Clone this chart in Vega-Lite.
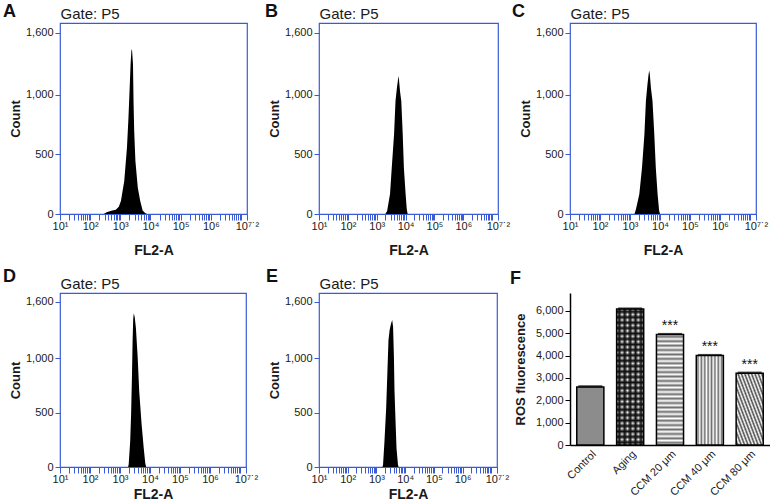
{
"$schema": "https://vega.github.io/schema/vega-lite/v6.json",
"padding": {"left": 2, "top": 2, "right": 0, "bottom": 0},
"config": {
  "font": "Liberation Sans",
  "view": {"stroke": "#3b5bd6", "strokeWidth": 1.2},
  "axis": {"grid": false, "labelFont": "Liberation Sans", "titleFont": "Liberation Sans", "labelColor": "#1a1a1a", "titleColor": "#1a1a1a", "labelFontSize": 11, "titleFontSize": 13, "titleFontWeight": "bold"},
  "axisTop": {"labels": false, "ticks": false, "domain": false, "titleAnchor": "start", "titleAlign": "left", "titleFontWeight": "normal", "titleFontSize": 15, "titlePadding": 2},
  "title": {"fontSize": 18, "fontWeight": "bold", "anchor": "start", "frame": "group", "offset": 0, "baseline": "alphabetic", "color": "#111", "font": "Liberation Sans"}
},
"datasets": {
  "hist": [
    {"panel":"A","logFL2A":2.45,"count":0},{"panel":"A","logFL2A":2.55,"count":15},{"panel":"A","logFL2A":2.7,"count":28},{"panel":"A","logFL2A":2.85,"count":35},{"panel":"A","logFL2A":2.95,"count":60},{"panel":"A","logFL2A":3.02,"count":109},{"panel":"A","logFL2A":3.13,"count":276},{"panel":"A","logFL2A":3.22,"count":555},{"panel":"A","logFL2A":3.27,"count":807},{"panel":"A","logFL2A":3.31,"count":1058},{"panel":"A","logFL2A":3.34,"count":1254},{"panel":"A","logFL2A":3.37,"count":1380},{"panel":"A","logFL2A":3.39,"count":1370},{"panel":"A","logFL2A":3.42,"count":1254},{"panel":"A","logFL2A":3.44,"count":919},{"panel":"A","logFL2A":3.46,"count":695},{"panel":"A","logFL2A":3.5,"count":444},{"panel":"A","logFL2A":3.58,"count":220},{"panel":"A","logFL2A":3.66,"count":109},{"panel":"A","logFL2A":3.74,"count":30},{"panel":"A","logFL2A":3.82,"count":8},{"panel":"A","logFL2A":3.88,"count":0},
    {"panel":"B","logFL2A":3.3,"count":0},{"panel":"B","logFL2A":3.36,"count":25},{"panel":"B","logFL2A":3.46,"count":167},{"panel":"B","logFL2A":3.52,"count":388},{"panel":"B","logFL2A":3.6,"count":669},{"panel":"B","logFL2A":3.65,"count":946},{"panel":"B","logFL2A":3.7,"count":1060},{"panel":"B","logFL2A":3.74,"count":1130},{"panel":"B","logFL2A":3.76,"count":1156},{"panel":"B","logFL2A":3.78,"count":1100},{"panel":"B","logFL2A":3.81,"count":1020},{"panel":"B","logFL2A":3.85,"count":946},{"panel":"B","logFL2A":3.9,"count":669},{"panel":"B","logFL2A":3.94,"count":388},{"panel":"B","logFL2A":4.0,"count":167},{"panel":"B","logFL2A":4.04,"count":40},{"panel":"B","logFL2A":4.07,"count":0},
    {"panel":"C","logFL2A":3.15,"count":0},{"panel":"C","logFL2A":3.2,"count":42},{"panel":"C","logFL2A":3.31,"count":165},{"panel":"C","logFL2A":3.4,"count":388},{"panel":"C","logFL2A":3.48,"count":667},{"panel":"C","logFL2A":3.53,"count":946},{"panel":"C","logFL2A":3.58,"count":1080},{"panel":"C","logFL2A":3.62,"count":1170},{"panel":"C","logFL2A":3.64,"count":1203},{"panel":"C","logFL2A":3.66,"count":1170},{"panel":"C","logFL2A":3.7,"count":1050},{"panel":"C","logFL2A":3.75,"count":946},{"panel":"C","logFL2A":3.81,"count":667},{"panel":"C","logFL2A":3.86,"count":388},{"panel":"C","logFL2A":3.92,"count":165},{"panel":"C","logFL2A":3.97,"count":30},{"panel":"C","logFL2A":4.0,"count":0},
    {"panel":"D","logFL2A":3.27,"count":0},{"panel":"D","logFL2A":3.29,"count":25},{"panel":"D","logFL2A":3.34,"count":239},{"panel":"D","logFL2A":3.37,"count":485},{"panel":"D","logFL2A":3.4,"count":852},{"panel":"D","logFL2A":3.42,"count":1159},{"panel":"D","logFL2A":3.44,"count":1360},{"panel":"D","logFL2A":3.46,"count":1413},{"panel":"D","logFL2A":3.49,"count":1380},{"panel":"D","logFL2A":3.53,"count":1281},{"panel":"D","logFL2A":3.59,"count":1005},{"panel":"D","logFL2A":3.64,"count":699},{"panel":"D","logFL2A":3.72,"count":393},{"panel":"D","logFL2A":3.79,"count":178},{"panel":"D","logFL2A":3.84,"count":40},{"panel":"D","logFL2A":3.87,"count":0},
    {"panel":"E","logFL2A":3.21,"count":0},{"panel":"E","logFL2A":3.23,"count":19},{"panel":"E","logFL2A":3.28,"count":235},{"panel":"E","logFL2A":3.34,"count":545},{"panel":"E","logFL2A":3.38,"count":856},{"panel":"E","logFL2A":3.42,"count":1166},{"panel":"E","logFL2A":3.46,"count":1260},{"panel":"E","logFL2A":3.51,"count":1320},{"panel":"E","logFL2A":3.55,"count":1352},{"panel":"E","logFL2A":3.58,"count":1290},{"panel":"E","logFL2A":3.61,"count":1010},{"panel":"E","logFL2A":3.63,"count":700},{"panel":"E","logFL2A":3.67,"count":391},{"panel":"E","logFL2A":3.7,"count":173},{"panel":"E","logFL2A":3.75,"count":24},{"panel":"E","logFL2A":3.77,"count":0}
  ],
  "ros": [
    {"group":"Control","value":2600,"hi":2630,"sig":""},
    {"group":"Aging","value":6080,"hi":6110,"sig":""},
    {"group":"CCM 20 μm","value":4940,"hi":4970,"sig":"***"},
    {"group":"CCM 40 μm","value":4000,"hi":4030,"sig":"***"},
    {"group":"CCM 80 μm","value":3210,"hi":3240,"sig":"***"}
  ]
},
"bounds": "flush",
"align": "each",
"columns": 3,
"spacing": {"row": 79, "column": 72},
"concat": [
   {"width": 187, "height": 191, "title": {"text": "A", "dx": -57, "dy": 19},
    "data": {"name": "hist"}, "transform": [{"filter": "datum.panel == 'A'"}],
    "layer": [
     {"mark": {"type": "area", "color": "#000", "interpolate": "linear"},
      "encoding": {
       "x": {"field": "logFL2A", "type": "quantitative", "scale": {"domain": [1, 7.2], "nice": false, "zero": false},
             "axis": {"title": "FL2-A", "titleFontSize": 14, "titlePadding": 12, "values": [1,1.301,1.477,1.602,1.699,1.778,1.845,1.903,1.954,2,2.301,2.477,2.602,2.699,2.778,2.845,2.903,2.954,3,3.301,3.477,3.602,3.699,3.778,3.845,3.903,3.954,4,4.301,4.477,4.602,4.699,4.778,4.845,4.903,4.954,5,5.301,5.477,5.602,5.699,5.778,5.845,5.903,5.954,6,6.301,6.477,6.602,6.699,6.778,6.845,6.903,6.954,7,7.2], "labelExpr": "datum.value == 1 ? '10¹' : datum.value == 2 ? '10²' : datum.value == 3 ? '10³' : datum.value == 4 ? '10⁴' : datum.value == 5 ? '10⁵' : datum.value == 6 ? '10⁶' : datum.value == 7.2 ? '10⁷˙²' : ''", "labelOverlap": false, "labelFlush": false, "tickColor": "#3b5bd6", "tickSize": 6, "domain": false, "labelPadding": 0}},
       "y": {"field": "count", "type": "quantitative", "scale": {"domain": [0, 1600], "nice": false},
             "axis": {"title": "Count", "values": [0, 500, 1000, 1520], "labelExpr": "datum.value == 1520 ? '1,600' : format(datum.value, ',')", "tickColor": "#3b5bd6", "tickSize": 5, "domain": false, "labelPadding": 2, "titlePadding": 3}}
      }},
     {"mark": {"type": "point", "opacity": 0},
      "encoding": {"x": {"field": "logFL2A", "type": "quantitative", "axis": {"orient": "top", "title": "Gate: P5"}}}}
    ],
    "resolve": {"axis": {"x": "independent"}}},
   {"width": 179, "height": 191, "title": {"text": "B", "dx": -54, "dy": 19},
    "data": {"name": "hist"}, "transform": [{"filter": "datum.panel == 'B'"}],
    "layer": [
     {"mark": {"type": "area", "color": "#000", "interpolate": "linear"},
      "encoding": {
       "x": {"field": "logFL2A", "type": "quantitative", "scale": {"domain": [1, 7.2], "nice": false, "zero": false},
             "axis": {"title": "FL2-A", "titleFontSize": 14, "titlePadding": 12, "values": [1,1.301,1.477,1.602,1.699,1.778,1.845,1.903,1.954,2,2.301,2.477,2.602,2.699,2.778,2.845,2.903,2.954,3,3.301,3.477,3.602,3.699,3.778,3.845,3.903,3.954,4,4.301,4.477,4.602,4.699,4.778,4.845,4.903,4.954,5,5.301,5.477,5.602,5.699,5.778,5.845,5.903,5.954,6,6.301,6.477,6.602,6.699,6.778,6.845,6.903,6.954,7,7.2], "labelExpr": "datum.value == 1 ? '10¹' : datum.value == 2 ? '10²' : datum.value == 3 ? '10³' : datum.value == 4 ? '10⁴' : datum.value == 5 ? '10⁵' : datum.value == 6 ? '10⁶' : datum.value == 7.2 ? '10⁷˙²' : ''", "labelOverlap": false, "labelFlush": false, "tickColor": "#3b5bd6", "tickSize": 6, "domain": false, "labelPadding": 0}},
       "y": {"field": "count", "type": "quantitative", "scale": {"domain": [0, 1600], "nice": false},
             "axis": {"title": "Count", "values": [0, 500, 1000, 1520], "labelExpr": "datum.value == 1520 ? '1,600' : format(datum.value, ',')", "tickColor": "#3b5bd6", "tickSize": 5, "domain": false, "labelPadding": 2, "titlePadding": 3}}
      }},
     {"mark": {"type": "point", "opacity": 0},
      "encoding": {"x": {"field": "logFL2A", "type": "quantitative", "axis": {"orient": "top", "title": "Gate: P5"}}}}
    ],
    "resolve": {"axis": {"x": "independent"}}},
  {"width": 186, "height": 191, "title": {"text": "C", "dx": -58, "dy": 19},
   "data": {"name": "hist"}, "transform": [{"filter": "datum.panel == 'C'"}],
   "layer": [
    {"mark": {"type": "area", "color": "#000", "interpolate": "linear"},
     "encoding": {
      "x": {"field": "logFL2A", "type": "quantitative", "scale": {"domain": [1, 7.2], "nice": false, "zero": false},
            "axis": {"title": "FL2-A", "titleFontSize": 14, "titlePadding": 12, "values": [1,1.301,1.477,1.602,1.699,1.778,1.845,1.903,1.954,2,2.301,2.477,2.602,2.699,2.778,2.845,2.903,2.954,3,3.301,3.477,3.602,3.699,3.778,3.845,3.903,3.954,4,4.301,4.477,4.602,4.699,4.778,4.845,4.903,4.954,5,5.301,5.477,5.602,5.699,5.778,5.845,5.903,5.954,6,6.301,6.477,6.602,6.699,6.778,6.845,6.903,6.954,7,7.2], "labelExpr": "datum.value == 1 ? '10¹' : datum.value == 2 ? '10²' : datum.value == 3 ? '10³' : datum.value == 4 ? '10⁴' : datum.value == 5 ? '10⁵' : datum.value == 6 ? '10⁶' : datum.value == 7.2 ? '10⁷˙²' : ''", "labelOverlap": false, "labelFlush": false, "tickColor": "#3b5bd6", "tickSize": 6, "domain": false, "labelPadding": 0}},
      "y": {"field": "count", "type": "quantitative", "scale": {"domain": [0, 1600], "nice": false},
            "axis": {"title": "Count", "values": [0, 500, 1000, 1520], "labelExpr": "datum.value == 1520 ? '1,600' : format(datum.value, ',')", "tickColor": "#3b5bd6", "tickSize": 5, "domain": false, "labelPadding": 2, "titlePadding": 3}}
     }},
    {"mark": {"type": "point", "opacity": 0},
     "encoding": {"x": {"field": "logFL2A", "type": "quantitative", "axis": {"orient": "top", "title": "Gate: P5"}}}}
   ],
   "resolve": {"axis": {"x": "independent"}}},
   {"width": 186, "height": 174, "title": {"text": "D", "dx": -57, "dy": 14},
    "data": {"name": "hist"}, "transform": [{"filter": "datum.panel == 'D'"}],
    "layer": [
     {"mark": {"type": "area", "color": "#000", "interpolate": "linear"},
      "encoding": {
       "x": {"field": "logFL2A", "type": "quantitative", "scale": {"domain": [1, 7.2], "nice": false, "zero": false},
             "axis": {"title": "FL2-A", "titleFontSize": 14, "titlePadding": 3, "values": [1,1.301,1.477,1.602,1.699,1.778,1.845,1.903,1.954,2,2.301,2.477,2.602,2.699,2.778,2.845,2.903,2.954,3,3.301,3.477,3.602,3.699,3.778,3.845,3.903,3.954,4,4.301,4.477,4.602,4.699,4.778,4.845,4.903,4.954,5,5.301,5.477,5.602,5.699,5.778,5.845,5.903,5.954,6,6.301,6.477,6.602,6.699,6.778,6.845,6.903,6.954,7,7.2], "labelExpr": "datum.value == 1 ? '10¹' : datum.value == 2 ? '10²' : datum.value == 3 ? '10³' : datum.value == 4 ? '10⁴' : datum.value == 5 ? '10⁵' : datum.value == 6 ? '10⁶' : datum.value == 7.2 ? '10⁷˙²' : ''", "labelOverlap": false, "labelFlush": false, "tickColor": "#3b5bd6", "tickSize": 6, "domain": false, "labelPadding": 0}},
       "y": {"field": "count", "type": "quantitative", "scale": {"domain": [0, 1600], "nice": false},
             "axis": {"title": "Count", "values": [0, 500, 1000, 1520], "labelExpr": "datum.value == 1520 ? '1,600' : format(datum.value, ',')", "tickColor": "#3b5bd6", "tickSize": 5, "domain": false, "labelPadding": 2, "titlePadding": 3}}
      }},
     {"mark": {"type": "point", "opacity": 0},
      "encoding": {"x": {"field": "logFL2A", "type": "quantitative", "axis": {"orient": "top", "title": "Gate: P5"}}}}
    ],
    "resolve": {"axis": {"x": "independent"}}},
   {"width": 178, "height": 174, "title": {"text": "E", "dx": -53, "dy": 14},
    "data": {"name": "hist"}, "transform": [{"filter": "datum.panel == 'E'"}],
    "layer": [
     {"mark": {"type": "area", "color": "#000", "interpolate": "linear"},
      "encoding": {
       "x": {"field": "logFL2A", "type": "quantitative", "scale": {"domain": [1, 7.2], "nice": false, "zero": false},
             "axis": {"title": "FL2-A", "titleFontSize": 14, "titlePadding": 3, "values": [1,1.301,1.477,1.602,1.699,1.778,1.845,1.903,1.954,2,2.301,2.477,2.602,2.699,2.778,2.845,2.903,2.954,3,3.301,3.477,3.602,3.699,3.778,3.845,3.903,3.954,4,4.301,4.477,4.602,4.699,4.778,4.845,4.903,4.954,5,5.301,5.477,5.602,5.699,5.778,5.845,5.903,5.954,6,6.301,6.477,6.602,6.699,6.778,6.845,6.903,6.954,7,7.2], "labelExpr": "datum.value == 1 ? '10¹' : datum.value == 2 ? '10²' : datum.value == 3 ? '10³' : datum.value == 4 ? '10⁴' : datum.value == 5 ? '10⁵' : datum.value == 6 ? '10⁶' : datum.value == 7.2 ? '10⁷˙²' : ''", "labelOverlap": false, "labelFlush": false, "tickColor": "#3b5bd6", "tickSize": 6, "domain": false, "labelPadding": 0}},
       "y": {"field": "count", "type": "quantitative", "scale": {"domain": [0, 1600], "nice": false},
             "axis": {"title": "Count", "values": [0, 500, 1000, 1520], "labelExpr": "datum.value == 1520 ? '1,600' : format(datum.value, ',')", "tickColor": "#3b5bd6", "tickSize": 5, "domain": false, "labelPadding": 2, "titlePadding": 3}}
      }},
     {"mark": {"type": "point", "opacity": 0},
      "encoding": {"x": {"field": "logFL2A", "type": "quantitative", "axis": {"orient": "top", "title": "Gate: P5"}}}}
    ],
    "resolve": {"axis": {"x": "independent"}}},
  {"width": 200, "height": 152, "view": {"stroke": null},
   "title": {"text": "F", "dx": -60, "dy": -1},
   "data": {"name": "ros"},
   "encoding": {
     "x": {"field": "group", "type": "nominal", "sort": null, "scale": {"paddingInner": 0.32, "paddingOuter": 0.17},
           "axis": {"title": null, "labelAngle": -45, "ticks": false, "domainColor": "#000", "domainWidth": 1.5, "labelFontSize": 11, "labelPadding": 3}},
     "y": {"field": "value", "type": "quantitative", "scale": {"domain": [0, 6800], "nice": false},
           "axis": {"title": "ROS fluorescence", "values": [0,1000,2000,3000,4000,5000,6000], "labelExpr": "format(datum.value, ',')", "tickSize": 5, "tickColor": "#000", "domainColor": "#000", "domainWidth": 1.5, "titlePadding": 8, "labelPadding": 2}}
   },
   "layer": [
     {"transform": [{"filter": "datum.group == 'Control'"}], "mark": {"type": "bar", "fill": "#8c8c8c", "stroke": "#000", "strokeWidth": 1.5}},
     {"transform": [{"filter": "datum.group == 'Aging'"}], "mark": {"type": "bar", "fill": "#fff"}},
     {"transform": [{"filter": "datum.group == 'Aging'"}], "mark": {"type": "bar", "fill": {"gradient": "linear", "x1": 0, "y1": 0, "x2": 0, "y2": 1, "stops": [
       {"offset":0,"color":"rgba(0,0,0,0)"},{"offset":0.02,"color":"#111"},{"offset":0.04,"color":"rgba(0,0,0,0)"},{"offset":0.06,"color":"#111"},{"offset":0.08,"color":"rgba(0,0,0,0)"},{"offset":0.1,"color":"#111"},{"offset":0.12,"color":"rgba(0,0,0,0)"},{"offset":0.14,"color":"#111"},{"offset":0.16,"color":"rgba(0,0,0,0)"},{"offset":0.18,"color":"#111"},{"offset":0.2,"color":"rgba(0,0,0,0)"},{"offset":0.22,"color":"#111"},{"offset":0.24,"color":"rgba(0,0,0,0)"},{"offset":0.26,"color":"#111"},{"offset":0.28,"color":"rgba(0,0,0,0)"},{"offset":0.3,"color":"#111"},{"offset":0.32,"color":"rgba(0,0,0,0)"},{"offset":0.34,"color":"#111"},{"offset":0.36,"color":"rgba(0,0,0,0)"},{"offset":0.38,"color":"#111"},{"offset":0.4,"color":"rgba(0,0,0,0)"},{"offset":0.42,"color":"#111"},{"offset":0.44,"color":"rgba(0,0,0,0)"},{"offset":0.46,"color":"#111"},{"offset":0.48,"color":"rgba(0,0,0,0)"},{"offset":0.5,"color":"#111"},{"offset":0.52,"color":"rgba(0,0,0,0)"},{"offset":0.54,"color":"#111"},{"offset":0.56,"color":"rgba(0,0,0,0)"},{"offset":0.58,"color":"#111"},{"offset":0.6,"color":"rgba(0,0,0,0)"},{"offset":0.62,"color":"#111"},{"offset":0.64,"color":"rgba(0,0,0,0)"},{"offset":0.66,"color":"#111"},{"offset":0.68,"color":"rgba(0,0,0,0)"},{"offset":0.7,"color":"#111"},{"offset":0.72,"color":"rgba(0,0,0,0)"},{"offset":0.74,"color":"#111"},{"offset":0.76,"color":"rgba(0,0,0,0)"},{"offset":0.78,"color":"#111"},{"offset":0.8,"color":"rgba(0,0,0,0)"},{"offset":0.82,"color":"#111"},{"offset":0.84,"color":"rgba(0,0,0,0)"},{"offset":0.86,"color":"#111"},{"offset":0.88,"color":"rgba(0,0,0,0)"},{"offset":0.9,"color":"#111"},{"offset":0.92,"color":"rgba(0,0,0,0)"},{"offset":0.94,"color":"#111"},{"offset":0.96,"color":"rgba(0,0,0,0)"},{"offset":0.98,"color":"#111"},{"offset":1,"color":"rgba(0,0,0,0)"}]}}},
     {"transform": [{"filter": "datum.group == 'Aging'"}], "mark": {"type": "bar", "stroke": "#000", "strokeWidth": 1.5, "fill": {"gradient": "linear", "x1": 0, "y1": 0, "x2": 1, "y2": 0, "stops": [
       {"offset":0,"color":"rgba(0,0,0,0)"},{"offset":0.1,"color":"#111"},{"offset":0.2,"color":"rgba(0,0,0,0)"},{"offset":0.3,"color":"#111"},{"offset":0.4,"color":"rgba(0,0,0,0)"},{"offset":0.5,"color":"#111"},{"offset":0.6,"color":"rgba(0,0,0,0)"},{"offset":0.7,"color":"#111"},{"offset":0.8,"color":"rgba(0,0,0,0)"},{"offset":0.9,"color":"#111"},{"offset":1,"color":"rgba(0,0,0,0)"}]}}},
     {"transform": [{"filter": "datum.group == 'CCM 20 μm'"}], "mark": {"type": "bar", "stroke": "#000", "strokeWidth": 1.5, "fill": {"gradient": "linear", "x1": 0, "y1": 0, "x2": 0, "y2": 1, "stops": [
       {"offset":0,"color":"#fff"},{"offset":0.02,"color":"#6e6e6e"},{"offset":0.04,"color":"#fff"},{"offset":0.06,"color":"#6e6e6e"},{"offset":0.08,"color":"#fff"},{"offset":0.1,"color":"#6e6e6e"},{"offset":0.12,"color":"#fff"},{"offset":0.14,"color":"#6e6e6e"},{"offset":0.16,"color":"#fff"},{"offset":0.18,"color":"#6e6e6e"},{"offset":0.2,"color":"#fff"},{"offset":0.22,"color":"#6e6e6e"},{"offset":0.24,"color":"#fff"},{"offset":0.26,"color":"#6e6e6e"},{"offset":0.28,"color":"#fff"},{"offset":0.3,"color":"#6e6e6e"},{"offset":0.32,"color":"#fff"},{"offset":0.34,"color":"#6e6e6e"},{"offset":0.36,"color":"#fff"},{"offset":0.38,"color":"#6e6e6e"},{"offset":0.4,"color":"#fff"},{"offset":0.42,"color":"#6e6e6e"},{"offset":0.44,"color":"#fff"},{"offset":0.46,"color":"#6e6e6e"},{"offset":0.48,"color":"#fff"},{"offset":0.5,"color":"#6e6e6e"},{"offset":0.52,"color":"#fff"},{"offset":0.54,"color":"#6e6e6e"},{"offset":0.56,"color":"#fff"},{"offset":0.58,"color":"#6e6e6e"},{"offset":0.6,"color":"#fff"},{"offset":0.62,"color":"#6e6e6e"},{"offset":0.64,"color":"#fff"},{"offset":0.66,"color":"#6e6e6e"},{"offset":0.68,"color":"#fff"},{"offset":0.7,"color":"#6e6e6e"},{"offset":0.72,"color":"#fff"},{"offset":0.74,"color":"#6e6e6e"},{"offset":0.76,"color":"#fff"},{"offset":0.78,"color":"#6e6e6e"},{"offset":0.8,"color":"#fff"},{"offset":0.82,"color":"#6e6e6e"},{"offset":0.84,"color":"#fff"},{"offset":0.86,"color":"#6e6e6e"},{"offset":0.88,"color":"#fff"},{"offset":0.9,"color":"#6e6e6e"},{"offset":0.92,"color":"#fff"},{"offset":0.94,"color":"#6e6e6e"},{"offset":0.96,"color":"#fff"},{"offset":0.98,"color":"#6e6e6e"},{"offset":1,"color":"#fff"}]}}},
     {"transform": [{"filter": "datum.group == 'CCM 40 μm'"}], "mark": {"type": "bar", "stroke": "#000", "strokeWidth": 1.5, "fill": {"gradient": "linear", "x1": 0, "y1": 0, "x2": 1, "y2": 0, "stops": [
       {"offset":0,"color":"#fff"},{"offset":0.0625,"color":"#6e6e6e"},{"offset":0.125,"color":"#fff"},{"offset":0.1875,"color":"#6e6e6e"},{"offset":0.25,"color":"#fff"},{"offset":0.3125,"color":"#6e6e6e"},{"offset":0.375,"color":"#fff"},{"offset":0.4375,"color":"#6e6e6e"},{"offset":0.5,"color":"#fff"},{"offset":0.5625,"color":"#6e6e6e"},{"offset":0.625,"color":"#fff"},{"offset":0.6875,"color":"#6e6e6e"},{"offset":0.75,"color":"#fff"},{"offset":0.8125,"color":"#6e6e6e"},{"offset":0.875,"color":"#fff"},{"offset":0.9375,"color":"#6e6e6e"},{"offset":1,"color":"#fff"}]}}},
     {"transform": [{"filter": "datum.group == 'CCM 80 μm'"}], "mark": {"type": "bar", "stroke": "#000", "strokeWidth": 1.5, "fill": {"gradient": "linear", "x1": 1, "y1": 0, "x2": 0, "y2": 1, "stops": [
       {"offset":0,"color":"#fff"},{"offset":0.03125,"color":"#4a4a4a"},{"offset":0.0625,"color":"#fff"},{"offset":0.09375,"color":"#4a4a4a"},{"offset":0.125,"color":"#fff"},{"offset":0.15625,"color":"#4a4a4a"},{"offset":0.1875,"color":"#fff"},{"offset":0.21875,"color":"#4a4a4a"},{"offset":0.25,"color":"#fff"},{"offset":0.28125,"color":"#4a4a4a"},{"offset":0.3125,"color":"#fff"},{"offset":0.34375,"color":"#4a4a4a"},{"offset":0.375,"color":"#fff"},{"offset":0.40625,"color":"#4a4a4a"},{"offset":0.4375,"color":"#fff"},{"offset":0.46875,"color":"#4a4a4a"},{"offset":0.5,"color":"#fff"},{"offset":0.53125,"color":"#4a4a4a"},{"offset":0.5625,"color":"#fff"},{"offset":0.59375,"color":"#4a4a4a"},{"offset":0.625,"color":"#fff"},{"offset":0.65625,"color":"#4a4a4a"},{"offset":0.6875,"color":"#fff"},{"offset":0.71875,"color":"#4a4a4a"},{"offset":0.75,"color":"#fff"},{"offset":0.78125,"color":"#4a4a4a"},{"offset":0.8125,"color":"#fff"},{"offset":0.84375,"color":"#4a4a4a"},{"offset":0.875,"color":"#fff"},{"offset":0.90625,"color":"#4a4a4a"},{"offset":0.9375,"color":"#fff"},{"offset":0.96875,"color":"#4a4a4a"},{"offset":1,"color":"#fff"}]}}},
     {"mark": {"type": "tick", "color": "#000", "thickness": 2, "size": 24},
      "encoding": {"y": {"field": "hi", "type": "quantitative", "axis": {"title": "ROS fluorescence", "values": [0,1000,2000,3000,4000,5000,6000], "labelExpr": "format(datum.value, ',')", "tickSize": 5, "tickColor": "#000", "domainColor": "#000", "domainWidth": 1.5, "titlePadding": 8, "labelPadding": 2}}}},
     {"mark": {"type": "text", "baseline": "bottom", "dy": -1, "fontSize": 14, "font": "Liberation Sans", "color": "#111"},
      "encoding": {"y": {"field": "hi", "type": "quantitative", "axis": {"title": "ROS fluorescence", "values": [0,1000,2000,3000,4000,5000,6000], "labelExpr": "format(datum.value, ',')", "tickSize": 5, "tickColor": "#000", "domainColor": "#000", "domainWidth": 1.5, "titlePadding": 8, "labelPadding": 2}}, "text": {"field": "sig"}}}
   ]}
]
}
